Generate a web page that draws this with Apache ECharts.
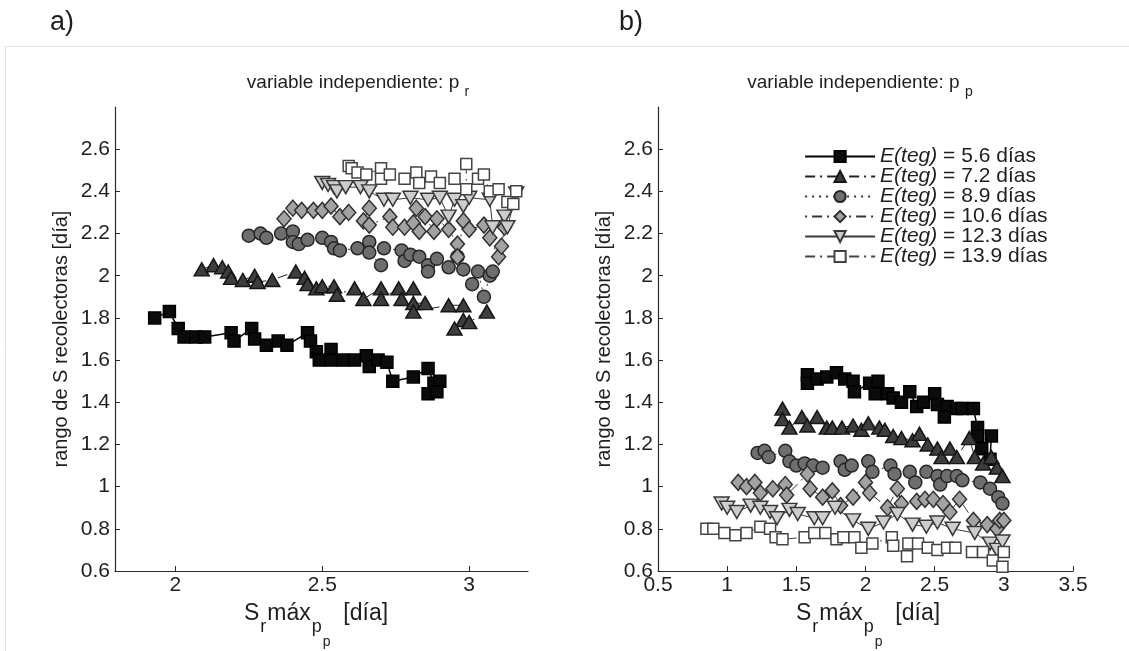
<!DOCTYPE html>
<html><head><meta charset="utf-8">
<script src="https://cdn.jsdelivr.net/npm/echarts@6/dist/echarts.min.js"></script>
<style>html,body{margin:0;padding:0;background:#fff}#c{width:1129px;height:651px}</style>
</head><body><div id="c"></div>
<script>
// ---- data ----
const seriesNames = ['E(teg) = 5.6 días','E(teg) = 7.2 días','E(teg) = 8.9 días','E(teg) = 10.6 días','E(teg) = 12.3 días','E(teg) = 13.9 días'];
const leftXTicks = [2, 2.5, 3];
const rightXTicks = [0.5, 1, 1.5, 2, 2.5, 3, 3.5];
const yTicks = [0.6, 0.8, 1, 1.2, 1.4, 1.6, 1.8, 2, 2.2, 2.4, 2.6];

const leftE56 = [[1.93,1.80],[1.98,1.83],[2.01,1.75],[2.03,1.71],[2.07,1.71],[2.10,1.71],[2.19,1.73],[2.20,1.69],[2.26,1.75],[2.27,1.70],[2.31,1.67],[2.35,1.69],[2.38,1.67],[2.45,1.73],[2.46,1.69],[2.48,1.64],[2.49,1.60],[2.53,1.65],[2.53,1.60],[2.57,1.60],[2.61,1.60],[2.65,1.62],[2.66,1.57],[2.69,1.60],[2.72,1.59],[2.74,1.50],[2.81,1.52],[2.86,1.56],[2.88,1.49],[2.90,1.50],[2.86,1.44],[2.89,1.45]];
const leftE72 = [[2.09,2.03],[2.13,2.05],[2.16,2.04],[2.18,2.02],[2.19,1.99],[2.23,1.98],[2.27,2.00],[2.28,1.97],[2.33,1.98],[2.41,2.02],[2.44,1.99],[2.45,1.96],[2.48,1.94],[2.50,1.95],[2.54,1.95],[2.55,1.91],[2.61,1.94],[2.64,1.89],[2.70,1.94],[2.70,1.89],[2.76,1.94],[2.77,1.89],[2.81,1.94],[2.81,1.87],[2.85,1.87],[2.81,1.83],[2.93,1.86],[2.98,1.86],[2.98,1.79],[2.95,1.75],[3.00,1.78],[3.06,1.83]];
const leftE89 = [[2.25,2.19],[2.29,2.20],[2.31,2.18],[2.36,2.20],[2.40,2.21],[2.40,2.16],[2.42,2.15],[2.45,2.17],[2.50,2.18],[2.53,2.16],[2.54,2.13],[2.56,2.12],[2.62,2.13],[2.66,2.16],[2.66,2.11],[2.70,2.05],[2.71,2.13],[2.77,2.12],[2.78,2.07],[2.80,2.10],[2.83,2.09],[2.86,2.05],[2.86,2.02],[2.89,2.08],[2.93,2.04],[2.96,2.09],[2.98,2.03],[3.01,1.96],[3.03,2.02],[3.05,1.90],[3.07,2.00],[3.08,2.02]];
const leftE106 = [[2.37,2.27],[2.40,2.32],[2.43,2.31],[2.47,2.31],[2.50,2.31],[2.53,2.33],[2.56,2.28],[2.59,2.30],[2.64,2.26],[2.66,2.32],[2.66,2.24],[2.73,2.28],[2.74,2.23],[2.78,2.23],[2.81,2.25],[2.82,2.32],[2.83,2.21],[2.85,2.28],[2.88,2.21],[2.89,2.27],[2.93,2.22],[2.96,2.15],[2.96,2.09],[2.98,2.26],[3.00,2.22],[3.05,2.24],[3.07,2.18],[3.10,2.09],[3.11,2.14],[3.12,2.23]];
const leftE123 = [[2.50,2.44],[2.52,2.43],[2.54,2.42],[2.55,2.40],[2.58,2.42],[2.63,2.42],[2.66,2.40],[2.71,2.36],[2.74,2.36],[2.80,2.37],[2.86,2.36],[2.90,2.37],[2.93,2.28],[2.95,2.36],[2.98,2.33],[3.00,2.37],[3.07,2.36],[3.08,2.23],[3.12,2.28],[3.13,2.23],[3.16,2.39]];
const leftE139 = [[2.59,2.52],[2.60,2.51],[2.62,2.49],[2.65,2.48],[2.70,2.51],[2.70,2.46],[2.73,2.48],[2.78,2.46],[2.82,2.49],[2.83,2.44],[2.87,2.47],[2.90,2.44],[2.95,2.46],[2.99,2.53],[2.99,2.41],[3.03,2.46],[3.05,2.48],[3.07,2.40],[3.10,2.41],[3.13,2.35],[3.15,2.34],[3.16,2.40]];

const rightE56 = [[1.58,1.53],[1.58,1.49],[1.65,1.51],[1.72,1.52],[1.79,1.54],[1.85,1.51],[1.91,1.50],[1.92,1.45],[2.03,1.49],[2.09,1.50],[2.07,1.44],[2.16,1.44],[2.20,1.42],[2.26,1.40],[2.32,1.45],[2.37,1.38],[2.42,1.40],[2.50,1.44],[2.52,1.39],[2.59,1.38],[2.57,1.33],[2.66,1.37],[2.70,1.37],[2.78,1.37],[2.81,1.28],[2.81,1.24],[2.84,1.18],[2.91,1.24],[2.90,1.13]];
const rightE72 = [[1.40,1.37],[1.40,1.32],[1.45,1.28],[1.54,1.33],[1.58,1.29],[1.65,1.33],[1.72,1.28],[1.76,1.28],[1.83,1.28],[1.91,1.29],[1.97,1.27],[2.02,1.30],[2.10,1.28],[2.14,1.27],[2.20,1.24],[2.26,1.23],[2.34,1.22],[2.39,1.25],[2.45,1.20],[2.52,1.18],[2.55,1.14],[2.61,1.18],[2.66,1.14],[2.75,1.23],[2.79,1.14],[2.85,1.11],[2.91,1.14],[2.95,1.09],[2.99,1.05]];
const rightE89 = [[1.22,1.16],[1.27,1.17],[1.30,1.14],[1.42,1.17],[1.45,1.12],[1.50,1.10],[1.56,1.11],[1.62,1.10],[1.69,1.09],[1.82,1.12],[1.85,1.08],[1.90,1.10],[2.02,1.12],[2.05,1.07],[2.18,1.10],[2.21,1.06],[2.32,1.07],[2.36,1.02],[2.44,1.07],[2.52,1.05],[2.54,1.01],[2.59,1.05],[2.66,1.05],[2.70,1.03],[2.83,1.02],[2.90,0.99],[2.96,0.95],[2.99,0.92]];
const rightE106 = [[1.08,1.02],[1.14,1.00],[1.20,1.02],[1.24,0.97],[1.33,0.99],[1.42,1.01],[1.43,0.96],[1.58,1.06],[1.60,0.99],[1.69,0.95],[1.76,0.98],[1.82,0.91],[1.91,0.95],[2.00,1.02],[2.03,0.97],[2.16,0.90],[2.23,0.99],[2.26,0.92],[2.37,0.93],[2.43,0.94],[2.49,0.94],[2.56,0.92],[2.61,0.88],[2.68,0.94],[2.78,0.84],[2.88,0.82],[2.95,0.80],[2.97,0.84],[3.00,0.84]];
const rightE123 = [[0.96,0.92],[1.00,0.90],[1.07,0.88],[1.17,0.91],[1.24,0.90],[1.31,0.88],[1.36,0.85],[1.45,0.89],[1.51,0.87],[1.63,0.85],[1.69,0.85],[1.78,0.90],[1.91,0.84],[2.02,0.80],[2.13,0.83],[2.23,0.87],[2.34,0.82],[2.44,0.81],[2.52,0.83],[2.63,0.80],[2.79,0.78],[2.90,0.73],[2.95,0.70],[2.99,0.74]];
const rightE139 = [[0.85,0.80],[0.90,0.80],[0.98,0.78],[1.06,0.77],[1.14,0.78],[1.24,0.81],[1.31,0.80],[1.35,0.76],[1.40,0.75],[1.56,0.76],[1.63,0.78],[1.71,0.78],[1.79,0.75],[1.84,0.76],[1.92,0.76],[1.97,0.71],[2.05,0.73],[2.19,0.76],[2.20,0.72],[2.30,0.67],[2.31,0.73],[2.38,0.73],[2.45,0.71],[2.52,0.70],[2.59,0.71],[2.65,0.71],[2.77,0.69],[2.85,0.69],[2.92,0.65],[2.99,0.62],[3.00,0.69]];

const leftData = [leftE56, leftE72, leftE89, leftE106, leftE123, leftE139];
const rightData = [rightE56, rightE72, rightE89, rightE106, rightE123, rightE139];

// ---- styles ----
const FONT = '"Liberation Sans", Arial, Helvetica, sans-serif';
const TXT = '#1e1e1e';
const styles = [
  {symbol:'rect', size:12, rot:0, fill:'#0b0b0b', border:'#000', line:'#000', lw:1.5, type:'solid'},
  {symbol:'triangle', size:[15,13], rot:0, fill:'#3d3d3d', border:'#151515', line:'#222', lw:1, type:[10,5,2,5]},
  {symbol:'circle', size:13, rot:0, fill:'#6e6e6e', border:'#262626', line:'#333', lw:1, type:[2,5]},
  {symbol:'diamond', size:[14,16], rot:0, fill:'#a2a2a2', border:'#303030', line:'#333', lw:1, type:[2,5,10,5]},
  {symbol:'triangle', size:[15,13], rot:180, fill:'#cdcdcd', border:'#383838', line:'#3a3a3a', lw:1, type:'solid'},
  {symbol:'rect', size:11, rot:0, fill:'#ffffff', border:'#444', line:'#444', lw:1, type:[10,5,2,5]}
];

function mk(i, data, ax) {
  const s = styles[i];
  return {
    type:'line', name: seriesNames[i], data: data, xAxisIndex: ax, yAxisIndex: ax,
    symbol: s.symbol, symbolSize: s.size, symbolRotate: s.rot, showAllSymbol: true,
    itemStyle: {color: s.fill, borderColor: s.border, borderWidth: 1.5, opacity: 1},
    lineStyle: {color: s.line, width: s.lw, type: s.type},
    emphasis: {disabled: true}, animation: false, silent: true
  };
}

const series = [];
leftData.forEach((d, i) => series.push(mk(i, d, 0)));
rightData.forEach((d, i) => series.push(mk(i, d, 1)));

const axisLineStyle = {lineStyle: {color: '#2a2a2a', width: 1.2}};
const lbl = {color: TXT, fontSize: 21, fontFamily: FONT};

function xAxis(grid, min, max, ticks) {
  return {
    type:'value', gridIndex: grid, min: min, max: max,
    axisLine: Object.assign({show: true, onZero: false}, axisLineStyle),
    axisTick: {show: true, inside: true, length: 5, customValues: ticks, lineStyle: {color: '#2a2a2a'}},
    axisLabel: Object.assign({margin: 4, customValues: ticks, formatter: v => String(v)}, lbl),
    splitLine: {show: false}
  };
}
function yAxis(grid) {
  return {
    type:'value', gridIndex: grid, min: 0.6, max: 2.8,
    axisLine: Object.assign({show: true, onZero: false}, axisLineStyle),
    axisTick: {show: true, inside: true, length: 5, customValues: yTicks, lineStyle: {color: '#2a2a2a'}},
    axisLabel: Object.assign({margin: 5, customValues: yTicks, formatter: v => String(Math.round(v*10)/10)}, lbl),
    splitLine: {show: false},
    name: 'rango de S recolectoras [día]', nameLocation: 'middle', nameGap: 44, nameRotate: 90,
    nameTextStyle: {color: TXT, fontSize: 20, fontFamily: FONT}
  };
}

function xName(x, y) {
  return {
    type:'text', x: x, y: y, silent: true,
    style: {
      text: '{m|S}{s|r}{m|máx}{s|p}{ss|p}{m|  [día]}',
      x: 0, y: 0, align: 'center', verticalAlign: 'top', fill: TXT, fontFamily: FONT,
      rich: {
        m: {fontSize: 23, lineHeight: 26, verticalAlign: 'top', fontFamily: FONT, fill: TXT},
        s: {fontSize: 18, lineHeight: 18, padding: [16,1,0,1], verticalAlign: 'top', fontFamily: FONT, fill: TXT},
        ss: {fontSize: 14, lineHeight: 14, padding: [33,0,0,0], verticalAlign: 'top', fontFamily: FONT, fill: TXT}
      }
    }
  };
}
function title(x, y, sub) {
  return {
    type:'text', x: x, y: y, silent: true,
    style: {
      text: '{m|variable independiente: p }{s|' + sub + '}',
      x: 0, y: 0, align: 'center', verticalAlign: 'top', fill: TXT, fontFamily: FONT,
      rich: {
        m: {fontSize: 19, lineHeight: 22, verticalAlign: 'top', fontFamily: FONT, fill: TXT},
        s: {fontSize: 14, lineHeight: 14, padding: [12,0,0,0], verticalAlign: 'top', fontFamily: FONT, fill: TXT}
      }
    }
  };
}

const chart = echarts.init(document.getElementById('c'), null, {renderer: 'canvas'});
chart.setOption({
  animation: false,
  backgroundColor: '#fff',
  textStyle: {fontFamily: FONT},
  grid: [
    {left: 115, top: 107, width: 413, height: 464},
    {left: 658, top: 107, width: 415, height: 464}
  ],
  xAxis: [xAxis(0, 1.795, 3.2, leftXTicks), xAxis(1, 0.5, 3.5, rightXTicks)],
  yAxis: [yAxis(0), yAxis(1)],
  legend: {
    show: true, orient: 'vertical', left: 799, top: 141, itemWidth: 70, itemHeight: 14, itemGap: -1,
    data: seriesNames, selectedMode: false,
    lineStyle: {width: 2.2},
    textStyle: {color: TXT, fontSize: 21, fontFamily: FONT, lineHeight: 19,
      rich: {i: {fontStyle: 'italic', fontSize: 21, fontFamily: FONT, color: TXT, lineHeight: 19}}},
    formatter: n => n.replace('E(teg)', '{i|E(teg)}')
  },
  graphic: [
    {type:'line', shape:{x1:5, y1:46.5, x2:1129, y2:46.5}, style:{stroke:'#e4e4e4', lineWidth:1}, silent:true},
    {type:'line', shape:{x1:5.5, y1:46, x2:5.5, y2:651}, style:{stroke:'#e4e4e4', lineWidth:1}, silent:true},
    {type:'text', x: 50, y: 9, silent: true, style:{text:'a)', fontSize: 27, fontFamily: FONT, fill: TXT}},
    {type:'text', x: 619, y: 9, silent: true, style:{text:'b)', fontSize: 27, fontFamily: FONT, fill: TXT}},
    title(358, 73, 'r'),
    title(860, 73, 'p'),
    xName(316, 602),
    xName(868, 602)
  ],
  series: series
});
</script>
</body></html>
